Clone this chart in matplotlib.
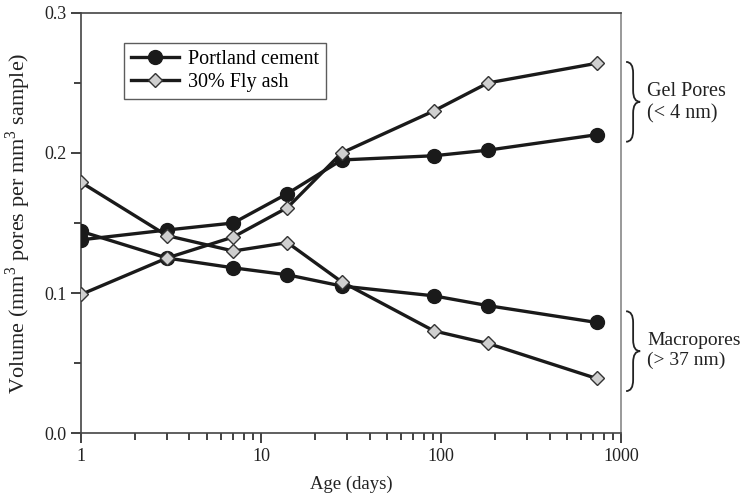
import matplotlib
matplotlib.use("Agg")
import matplotlib.pyplot as plt
from matplotlib.path import Path
from matplotlib.patches import PathPatch
from matplotlib.ticker import FixedLocator, FuncFormatter, MultipleLocator
import matplotlib.transforms as mtransforms

plt.rcParams["font.family"] = ["Liberation Serif", "DejaVu Serif"]
plt.rcParams["mathtext.fontset"] = "custom"
plt.rcParams["mathtext.rm"] = "Liberation Serif"

# age in days
age = [1, 3, 7, 14, 28, 91, 182, 730]

# gel pores (< 4 nm)
pc_gel = [0.138, 0.145, 0.150, 0.171, 0.195, 0.198, 0.202, 0.213]
fa_gel = [0.099, 0.125, 0.140, 0.161, 0.200, 0.230, 0.250, 0.264]
# macropores (> 37 nm)
pc_macro = [0.144, 0.125, 0.118, 0.113, 0.105, 0.098, 0.091, 0.079]
fa_macro = [0.179, 0.141, 0.130, 0.136, 0.108, 0.073, 0.064, 0.039]

LINE = "#1a1a1a"
GREY = "#cfcfcf"

fig = plt.figure(figsize=(7.44, 4.95), dpi=100)
ax = fig.add_axes([0.109, 0.125, 0.726, 0.849])

pc_style = dict(color=LINE, lw=2.4, marker="o", ms=10, mfc=LINE, mec=LINE,
                zorder=3)
fa_style = dict(color=LINE, lw=2.4, marker="D", ms=7.3, mfc=GREY, mec="#333333",
                mew=1.0, zorder=4)

ax.plot(age, pc_gel, label="Portland cement", **pc_style)
ax.plot(age, pc_macro, **pc_style)
ax.plot(age, fa_gel, label="30% Fly ash", **fa_style)
ax.plot(age, fa_macro, **fa_style)

ax.set_xscale("log")
ax.set_xlim(1, 1000)
ax.set_ylim(0, 0.3)
ax.xaxis.set_major_locator(FixedLocator([1, 10, 100, 1000]))
ax.xaxis.set_major_formatter(FuncFormatter(lambda v, p: f"{v:g}"))
ax.yaxis.set_major_locator(MultipleLocator(0.1))
ax.yaxis.set_minor_locator(MultipleLocator(0.05))
ax.yaxis.set_major_formatter(FuncFormatter(lambda v, p: f"{v:.1f}"))

ax.tick_params(which="both", direction="out", top=False, right=False,
               color="#333333", width=1.3, labelsize=13, labelcolor="#222222")
ax.tick_params(which="major", length=7)
ax.tick_params(which="minor", length=5)
for s in ["left", "bottom", "top"]:
    ax.spines[s].set_color("#444444")
    ax.spines[s].set_linewidth(1.2)
ax.spines["right"].set_color("#888888")
ax.spines["right"].set_linewidth(1.2)

ax.set_xlabel("Age (days)", fontsize=13.5, color="#222222", labelpad=8)
ax.set_ylabel(r"Volume (mm$^3$ pores per mm$^3$ sample)", fontsize=16,
              color="#222222", labelpad=8)

leg = ax.legend(loc="upper left", bbox_to_anchor=(0.0796, 0.929),
                borderaxespad=0, fontsize=14.5,
                frameon=True, fancybox=False, handlelength=2.4,
                borderpad=0.35, labelspacing=0.2, handletextpad=0.4)
leg.get_frame().set_edgecolor("#333333")
leg.get_frame().set_linewidth(1.0)

# curly braces on the right side
trans = mtransforms.blended_transform_factory(ax.transAxes, ax.transData)


def brace(y_top, y_bot, x0=1.009, x1=1.035, r=0.008):
    xm = (x0 + x1) / 2
    ym = (y_top + y_bot) / 2
    verts = [(x0, y_top), (xm, y_top), (xm, y_top - r),
             (xm, ym + r),
             (xm, ym), (x1, ym),
             (xm, ym), (xm, ym - r),
             (xm, y_bot + r),
             (xm, y_bot), (x0, y_bot)]
    codes = [Path.MOVETO, Path.CURVE3, Path.CURVE3,
             Path.LINETO,
             Path.CURVE3, Path.CURVE3,
             Path.CURVE3, Path.CURVE3,
             Path.LINETO,
             Path.CURVE3, Path.CURVE3]
    ax.add_patch(PathPatch(Path(verts, codes), transform=trans, fc="none",
                           ec="#222222", lw=1.3, clip_on=False))


brace(0.265, 0.208)
brace(0.087, 0.030)
ax.text(1.048, 0.236, "Gel Pores\n(< 4 nm)", transform=trans, fontsize=14.5,
        va="center", ha="left", color="#222222", linespacing=1.2)
ax.text(1.048, 0.059, "Macropores\n(> 37 nm)", transform=trans, fontsize=14,
        va="center", ha="left", color="#222222", linespacing=1.2)

fig.savefig("out.png", dpi=100)
